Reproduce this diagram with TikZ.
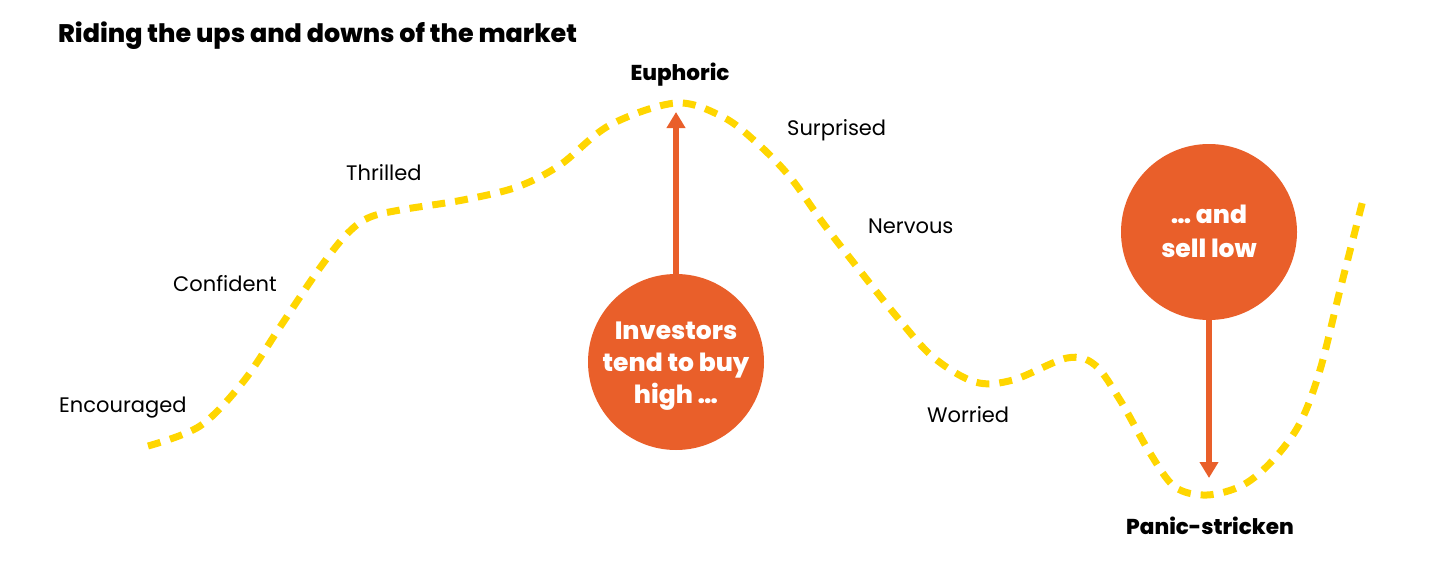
\documentclass[tikz,border=0pt]{standalone}
\usepackage{fontspec}
\setmainfont{Poppins}
\newfontfamily\heavyfont{Poppins ExtraBold}
\usetikzlibrary{arrows.meta}
\definecolor{curveyellow}{HTML}{FFD600}
\definecolor{brorange}{HTML}{E95F2A}
\newcommand{\bubbletext}[2]{\smash{\makebox[0pt]{\raisebox{#1}{\parbox[c]{170pt}{\centering #2}}}}}
\tikzset{
  mood/.style={inner sep=0pt, anchor=west, font=\fontsize{21}{24}\selectfont},
  moodbold/.style={inner sep=0pt, font=\heavyfont\fontsize{21.5}{24}\selectfont},
  bubble/.style={circle, fill=brorange, minimum size=176pt, inner sep=0pt, text=white, align=center, font=\heavyfont\fontsize{25}{32}\selectfont},
  pointer/.style={draw=brorange, line width=6pt, -{Triangle[length=16pt,width=18pt]}},
  ride/.style={draw=curveyellow, line width=7pt, dash pattern=on 13pt off 10pt}
}
\begin{document}
\begin{tikzpicture}[x=1pt,y=-1pt]
\useasboundingbox (0,0) rectangle (1430,573);
\node[inner sep=0pt, anchor=west, font=\heavyfont\fontsize{25.4}{28}\selectfont] (title) at (58,36) {Riding the ups and downs of the market};
\draw[ride] plot[smooth, tension=0.55] coordinates {(148,446) (200,426) (243,382) (280,327) (317,272) (345,236) (368,218) (400,210) (463,200) (517,187) (560,165) (610,125) (676,103) (723,117) (757,143) (790,177) (823,223) (857,267) (897,317) (933,357) (975,382) (1013,380) (1067,358) (1095,365) (1120,400) (1150,453) (1175,487) (1207,495) (1243,485) (1273,460) (1300,423) (1320,370) (1340,290) (1363,200)};
\node[moodbold] (euph) at (680,75) {Euphoric};
\node[mood] (surp) at (787,130) {Surprised};
\node[mood] (thri) at (346,173) {Thrilled};
\node[mood] (nerv) at (868,226) {Nervous};
\node[mood] (conf) at (173,284) {Confident};
\node[mood] (enco) at (59,408) {Encouraged};
\node[mood] (worr) at (927,415) {Worried};
\node[moodbold] (panic) at (1210,526) {Panic-stricken};
\node[bubble] (buy) at (676,362) {\bubbletext{-10pt}{Investors\\tend to buy\\high \dots}};
\node[bubble] (sell) at (1209,232) {\bubbletext{-5.5pt}{\dots\ and\\[2pt]sell low}};
\coordinate (buytip) at (676,112);
\coordinate (selltip) at (1209,478);
\draw[pointer] (buy.north) -- (buytip);
\draw[pointer] (sell.south) -- (selltip);
\end{tikzpicture}
\end{document}
